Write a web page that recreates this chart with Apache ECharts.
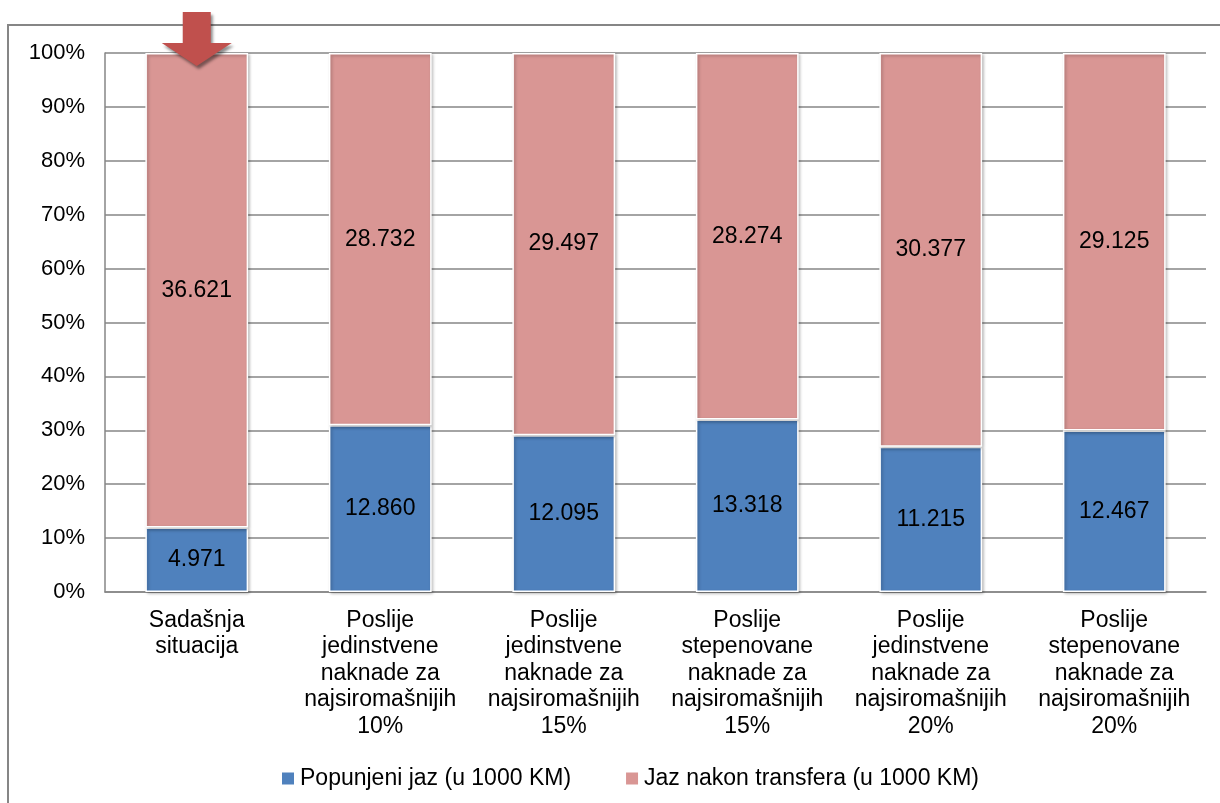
<!DOCTYPE html>
<html>
<head>
<meta charset="utf-8">
<script src="https://cdn.jsdelivr.net/npm/echarts@6/dist/echarts.min.js"></script>
<style>
  html, body { margin: 0; padding: 0; background: #ffffff; }
  #chart { width: 1220px; height: 803px; }
</style>
</head>
<body>
<div id="chart"></div>
<script>
// Scenarios compared (x axis)
const categories = [
  'Sadašnja\nsituacija',
  'Poslije\njedinstvene\nnaknade za\nnajsiromašnijih\n10%',
  'Poslije\njedinstvene\nnaknade za\nnajsiromašnijih\n15%',
  'Poslije\nstepenovane\nnaknade za\nnajsiromašnijih\n15%',
  'Poslije\njedinstvene\nnaknade za\nnajsiromašnijih\n20%',
  'Poslije\nstepenovane\nnaknade za\nnajsiromašnijih\n20%'
];

// Gap amounts, in thousands of KM
const filledGap = [4971, 12860, 12095, 13318, 11215, 12467];
const remainingGap = [36621, 28732, 29497, 28274, 30377, 29125];

const seriesNames = ['Popunjeni jaz (u 1000 KM)', 'Jaz nakon transfera (u 1000 KM)'];
const yTicks = [0, 10, 20, 30, 40, 50, 60, 70, 80, 90, 100];

// Shares of each bar's total (100% stacked)
const totals = filledGap.map((v, i) => v + remainingGap[i]);
const toShare = arr => arr.map((v, i) => ({ value: v / totals[i] * 100, raw: v }));

// 4971 -> "4.971"
const fmt = v => {
  const s = String(v);
  return s.length > 3 ? s.slice(0, s.length - 3) + '.' + s.slice(-3) : s;
};

const FONT = "'Liberation Sans', Arial, sans-serif";
const GRID_COLOR = '#868686';

const barStyle = color => ({
  color: color,
  borderColor: '#ffffff',
  borderWidth: 1.5,
  shadowColor: 'rgba(0,0,0,0.28)',
  shadowBlur: 3,
  shadowOffsetX: 1.5,
  shadowOffsetY: 1.5
});

const chart = echarts.init(document.getElementById('chart'), null, { renderer: 'canvas' });

const option = {
  backgroundColor: '#ffffff',
  animation: false,
  textStyle: { fontFamily: FONT, color: '#000' },
  grid: { left: 105, right: 14, top: 53, bottom: 211, containLabel: false },
  legend: {
    data: seriesNames,
    left: 275,
    top: 762,
    itemWidth: 14,
    itemHeight: 14,
    itemGap: 53,
    icon: 'rect',
    textStyle: { fontFamily: FONT, fontSize: 23, color: '#000' }
  },
  xAxis: {
    type: 'category',
    data: categories,
    axisLine: { lineStyle: { color: GRID_COLOR, width: 1.5 } },
    axisTick: { show: false },
    axisLabel: {
      interval: 0,
      margin: 15,
      fontFamily: FONT,
      fontSize: 23,
      lineHeight: 26.5,
      color: '#000',
      align: 'center',
      verticalAlign: 'top'
    }
  },
  yAxis: {
    type: 'value',
    min: yTicks[0],
    max: yTicks[yTicks.length - 1],
    interval: 10,
    axisLine: { show: true, lineStyle: { color: GRID_COLOR, width: 1.5 } },
    axisTick: { show: false },
    splitLine: { lineStyle: { color: GRID_COLOR, width: 1.5 } },
    axisLabel: {
      formatter: '{value}%',
      margin: 20,
      fontFamily: FONT,
      fontSize: 22,
      color: '#000'
    }
  },
  series: [
    {
      name: seriesNames[0],
      type: 'bar',
      stack: 'share',
      barWidth: '56%',
      data: toShare(filledGap),
      itemStyle: barStyle('#4F81BD'),
      label: {
        show: true,
        position: 'inside',
        fontFamily: FONT,
        fontSize: 23,
        color: '#000',
        formatter: p => fmt(p.data.raw)
      }
    },
    {
      name: seriesNames[1],
      type: 'bar',
      stack: 'share',
      barWidth: '56%',
      data: toShare(remainingGap),
      itemStyle: barStyle('#D99694'),
      label: {
        show: true,
        position: 'inside',
        fontFamily: FONT,
        fontSize: 23,
        color: '#000',
        formatter: p => fmt(p.data.raw)
      }
    }
  ]
};

chart.setOption(option);

// Outer frame and the pointer over the current-situation bar
const tip = chart.convertToPixel({ gridIndex: 0 }, [0, yTicks[yTicks.length - 1]]);
const tx = tip[0], ty = tip[1] + 13;
const arrowPoints = [
  [tx - 14, ty - 54],
  [tx + 14, ty - 54],
  [tx + 14, ty - 23],
  [tx + 35, ty - 23],
  [tx, ty],
  [tx - 35, ty - 23],
  [tx - 14, ty - 23]
];

chart.setOption({
  graphic: [
    {
      type: 'rect',
      shape: { x: 8, y: 25, width: 1400, height: 1000 },
      style: { fill: 'none', stroke: GRID_COLOR, lineWidth: 2 },
      silent: true,
      z: 0
    },
    {
      type: 'polygon',
      shape: { points: arrowPoints },
      style: {
        fill: '#C0504D',
        shadowColor: 'rgba(0,0,0,0.45)',
        shadowBlur: 3,
        shadowOffsetX: 2,
        shadowOffsetY: 3
      },
      silent: true,
      z: 100
    }
  ]
});
</script>
</body>
</html>
